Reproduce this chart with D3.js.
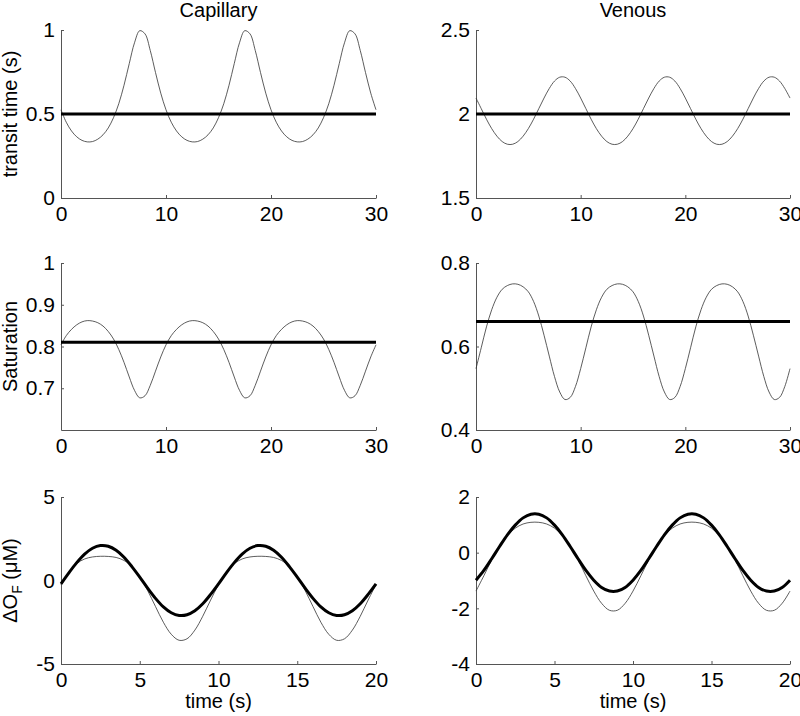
<!DOCTYPE html>
<html>
<head>
<meta charset="utf-8">
<script src="https://cdn.jsdelivr.net/npm/d3@7"></script>
<style>
  body { margin: 0; background: #fff; }
  svg { display: block; font-family: "Liberation Sans", Arial, sans-serif; }
</style>
</head>
<body>
<svg id="chart" width="800" height="716"></svg>
<script>
// time bases (s)
const time30 = [0,0.5,1,1.5,2,2.5,3,3.5,4,4.5,5,5.5,6,6.5,7,7.5,8,8.5,9,9.5,
  10,10.5,11,11.5,12,12.5,13,13.5,14,14.5,15,15.5,16,16.5,17,17.5,18,18.5,19,19.5,
  20,20.5,21,21.5,22,22.5,23,23.5,24,24.5,25,25.5,26,26.5,27,27.5,28,28.5,29,29.5,30];
const time20 = [0,0.5,1,1.5,2,2.5,3,3.5,4,4.5,5,5.5,6,6.5,7,7.5,8,8.5,9,9.5,
  10,10.5,11,11.5,12,12.5,13,13.5,14,14.5,15,15.5,16,16.5,17,17.5,18,18.5,19,19.5,20];
const timeEnds = [0, 30];

// transit time (s)
const capTransit = [0.525,0.451,0.399,0.364,0.343,0.334,0.336,0.350,0.376,0.417,0.478,0.561,0.671,0.800,0.924,0.996,0.977,0.878,0.747,0.624,
  0.525,0.451,0.399,0.364,0.343,0.334,0.336,0.350,0.376,0.417,0.478,0.561,0.671,0.800,0.924,0.996,0.977,0.878,0.747,0.624,
  0.525,0.451,0.399,0.364,0.343,0.334,0.336,0.350,0.376,0.417,0.478,0.561,0.671,0.800,0.924,0.996,0.977,0.878,0.747,0.624,0.525];
const capTransitMean = [0.5, 0.5];
const venTransit = [2.095,2.032,1.969,1.913,1.868,1.836,1.820,1.820,1.836,1.868,1.913,1.969,2.032,2.095,2.152,2.196,2.219,2.219,2.196,2.152,
  2.095,2.032,1.969,1.913,1.868,1.836,1.820,1.820,1.836,1.868,1.913,1.969,2.032,2.095,2.152,2.196,2.219,2.219,2.196,2.152,
  2.095,2.032,1.969,1.913,1.868,1.836,1.820,1.820,1.836,1.868,1.913,1.969,2.032,2.095,2.152,2.196,2.219,2.219,2.196,2.152,2.095];
const venTransitMean = [2, 2];

// saturation
const capSat = [0.804,0.826,0.841,0.852,0.859,0.862,0.861,0.857,0.849,0.836,0.818,0.793,0.762,0.727,0.695,0.677,0.682,0.707,0.741,0.775,
  0.804,0.826,0.841,0.852,0.859,0.862,0.861,0.857,0.849,0.836,0.818,0.793,0.762,0.727,0.695,0.677,0.682,0.707,0.741,0.775,
  0.804,0.826,0.841,0.852,0.859,0.862,0.861,0.857,0.849,0.836,0.818,0.793,0.762,0.727,0.695,0.677,0.682,0.707,0.741,0.775,0.804];
const capSatMean = [0.81, 0.81];
const venSat = [0.547,0.597,0.647,0.688,0.718,0.737,0.746,0.750,0.749,0.743,0.731,0.708,0.673,0.627,0.577,0.528,0.491,0.473,0.478,0.504,
  0.547,0.597,0.647,0.688,0.718,0.737,0.746,0.750,0.749,0.743,0.731,0.708,0.673,0.627,0.577,0.528,0.491,0.473,0.478,0.504,
  0.547,0.597,0.647,0.688,0.718,0.737,0.746,0.750,0.749,0.743,0.731,0.708,0.673,0.627,0.577,0.528,0.491,0.473,0.478,0.504,0.547];
const venSatMean = [0.66, 0.66];

// delta O_F (uM)
const capFluxThick = [-0.20,0.46,1.07,1.58,1.93,2.09,2.05,1.81,1.39,0.83,0.20,-0.46,-1.07,-1.58,-1.93,-2.09,-2.05,-1.81,-1.39,-0.83,
  -0.20,0.46,1.07,1.58,1.93,2.09,2.05,1.81,1.39,0.83,0.20,-0.46,-1.07,-1.58,-1.93,-2.09,-2.05,-1.81,-1.39,-0.83,-0.20];
const capFluxThin = [-0.25,0.50,1.01,1.29,1.41,1.45,1.44,1.38,1.20,0.83,0.23,-0.60,-1.56,-2.50,-3.22,-3.58,-3.49,-2.97,-2.14,-1.17,
  -0.25,0.50,1.01,1.29,1.41,1.45,1.44,1.38,1.20,0.83,0.23,-0.60,-1.56,-2.50,-3.22,-3.58,-3.49,-2.97,-2.14,-1.17,-0.25];
const venFluxThick = [-0.99,-0.64,-0.22,0.22,0.64,0.99,1.25,1.38,1.38,1.25,0.99,0.64,0.22,-0.22,-0.64,-0.99,-1.25,-1.38,-1.38,-1.25,
  -0.99,-0.64,-0.22,0.22,0.64,0.99,1.25,1.38,1.38,1.25,0.99,0.64,0.22,-0.22,-0.64,-0.99,-1.25,-1.38,-1.38,-1.25,-0.99];
const venFluxThin = [-1.38,-0.83,-0.26,0.24,0.62,0.88,1.03,1.09,1.09,1.03,0.88,0.62,0.24,-0.26,-0.83,-1.38,-1.82,-2.07,-2.07,-1.82,
  -1.38,-0.83,-0.26,0.24,0.62,0.88,1.03,1.09,1.09,1.03,0.88,0.62,0.24,-0.26,-0.83,-1.38,-1.82,-2.07,-2.07,-1.82,-1.38];

// ticks
const xTicks30 = [0, 10, 20, 30];
const xTicks20 = [0, 5, 10, 15, 20];

const svg = d3.select("#chart");
const cols = [{ x0: 61, x1: 376 }, { x0: 476, x1: 790 }];
const rows = [{ y0: 30, y1: 198 }, { y0: 263, y1: 430 }, { y0: 497, y1: 664 }];

const panels = [
  { col: 0, row: 0, xDomain: [0, 30], xTicks: xTicks30, yDomain: [0, 1], yTicks: [0, 0.5, 1],
    title: "Capillary", ylabel: "transit time (s)",
    series: [{ t: time30, v: capTransit, w: "thin" }, { t: timeEnds, v: capTransitMean, w: "thick" }] },
  { col: 1, row: 0, xDomain: [0, 30], xTicks: xTicks30, yDomain: [1.5, 2.5], yTicks: [1.5, 2, 2.5],
    title: "Venous",
    series: [{ t: time30, v: venTransit, w: "thin" }, { t: timeEnds, v: venTransitMean, w: "thick" }] },
  { col: 0, row: 1, xDomain: [0, 30], xTicks: xTicks30, yDomain: [0.6, 1], yTicks: [0.7, 0.8, 0.9, 1],
    ylabel: "Saturation",
    series: [{ t: time30, v: capSat, w: "thin" }, { t: timeEnds, v: capSatMean, w: "thick" }] },
  { col: 1, row: 1, xDomain: [0, 30], xTicks: xTicks30, yDomain: [0.4, 0.8], yTicks: [0.4, 0.6, 0.8],
    series: [{ t: time30, v: venSat, w: "thin" }, { t: timeEnds, v: venSatMean, w: "thick" }] },
  { col: 0, row: 2, xDomain: [0, 20], xTicks: xTicks20, yDomain: [-5, 5], yTicks: [-5, 0, 5],
    ylabel: "flux", xlabel: "time (s)",
    series: [{ t: time20, v: capFluxThin, w: "thin" }, { t: time20, v: capFluxThick, w: "thick" }] },
  { col: 1, row: 2, xDomain: [0, 20], xTicks: xTicks20, yDomain: [-4, 2], yTicks: [-4, -2, 0, 2],
    xlabel: "time (s)",
    series: [{ t: time20, v: venFluxThin, w: "thin" }, { t: time20, v: venFluxThick, w: "thick" }] }
];

const fmt = d => String(d);

panels.forEach(p => {
  const c = cols[p.col], r = rows[p.row];
  const x = d3.scaleLinear().domain(p.xDomain).range([c.x0, c.x1]);
  const y = d3.scaleLinear().domain(p.yDomain).range([r.y1, r.y0]);
  const g = svg.append("g");

  const xAxis = g.append("g")
    .attr("transform", `translate(0,${r.y1})`)
    .call(d3.axisBottom(x).tickValues(p.xTicks).tickSizeInner(-3).tickSizeOuter(0)
      .tickPadding(8).tickFormat(fmt));
  const yAxis = g.append("g")
    .attr("transform", `translate(${c.x0},0)`)
    .call(d3.axisLeft(y).tickValues(p.yTicks).tickSizeInner(-3).tickSizeOuter(0)
      .tickPadding(6).tickFormat(fmt));

  [xAxis, yAxis].forEach(a => {
    a.attr("font-family", null).attr("font-size", null);
    a.select(".domain").attr("stroke", "#555");
    a.selectAll(".tick line").attr("stroke", "#555");
    a.selectAll(".tick text").attr("fill", "#000").style("font-size", "21px");
  });

  const line = d3.line().curve(d3.curveCatmullRom.alpha(0.5));
  p.series.forEach(s => {
    g.append("path")
      .attr("d", line(s.t.map((t, i) => [x(t), y(s.v[i])])))
      .attr("fill", "none")
      .attr("stroke", s.w === "thick" ? "#000" : "#333")
      .attr("stroke-width", s.w === "thick" ? 3 : 0.8)
      .attr("stroke-linejoin", "round");
  });

  const cx = (c.x0 + c.x1) / 2, cy = (r.y0 + r.y1) / 2;
  if (p.title) {
    g.append("text").attr("x", cx).attr("y", 17).attr("text-anchor", "middle")
      .style("font-size", "20px").text(p.title);
  }
  if (p.xlabel) {
    g.append("text").attr("x", cx).attr("y", 708).attr("text-anchor", "middle")
      .style("font-size", "20px").text(p.xlabel);
  }
  if (p.ylabel) {
    const lab = g.append("text")
      .attr("transform", `translate(17,${cy}) rotate(-90)`)
      .attr("text-anchor", "middle")
      .style("font-size", "20px");
    if (p.ylabel === "flux") {
      lab.append("tspan").text("\u0394O");
      lab.append("tspan").attr("dy", 5).style("font-size", "14px").text("F");
      lab.append("tspan").attr("dy", -5).text(" (\u03bcM)");
    } else {
      lab.text(p.ylabel);
    }
  }
});
</script>
</body>
</html>
